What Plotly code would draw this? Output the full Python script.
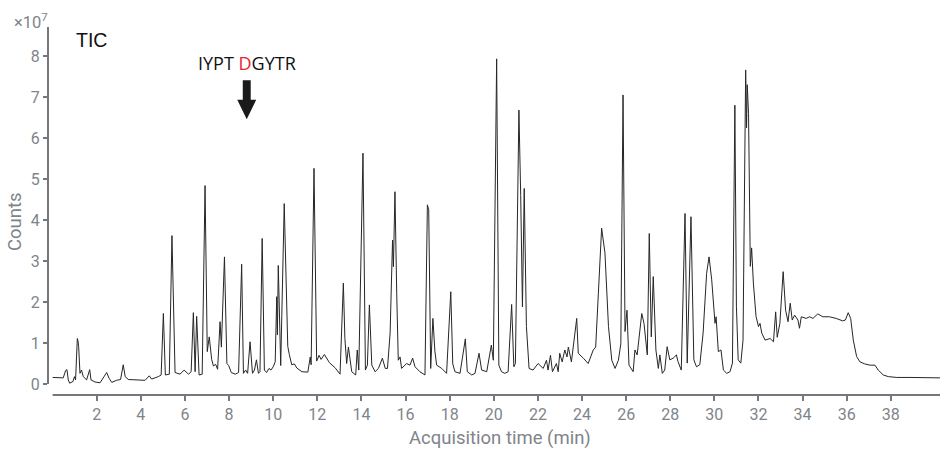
import plotly.graph_objects as go

# Total ion chromatogram (TIC): acquisition time (min) vs. counts (x10^7)
TIME_MIN = [
    0.00, 0.20, 0.48, 0.59, 0.65, 0.71, 0.77, 0.92, 0.99, 1.04,
    1.12, 1.15, 1.18, 1.24, 1.31, 1.39, 1.54, 1.68, 1.74, 1.92,
    2.15, 2.33, 2.45, 2.56, 2.68, 2.90, 3.08, 3.20, 3.29, 3.43,
    3.81, 4.19, 4.38, 4.49, 4.79, 4.92,
    5.02, 5.11, 5.29, 5.41, 5.55, 5.78, 5.96, 6.16, 6.28, 6.38,
    6.46, 6.53, 6.64, 6.78, 6.91, 7.01, 7.10, 7.21, 7.29, 7.39,
    7.48, 7.59, 7.65, 7.79, 7.90, 7.98, 8.10, 8.28, 8.43, 8.57,
    8.65, 8.75, 8.84, 8.95, 9.06, 9.15, 9.24, 9.33, 9.40, 9.50,
    9.60, 9.70, 9.81, 9.90, 10.00, 10.09, 10.16, 10.19, 10.23, 10.34,
    10.50, 10.66, 10.73, 10.84, 10.96, 11.07, 11.30, 11.57, 11.68, 11.72,
    11.85, 11.97, 12.08, 12.17, 12.32, 12.42, 12.55, 12.80, 13.03,
    13.18, 13.25, 13.33, 13.41, 13.56, 13.74, 13.81, 13.88, 14.07, 14.18,
    14.27, 14.36, 14.47, 14.62, 14.77, 14.95, 15.08, 15.18, 15.30, 15.41,
    15.45, 15.52, 15.60, 15.67, 15.75, 15.82, 16.05, 16.20, 16.32, 16.43,
    16.65, 16.88, 16.99, 17.05, 17.14, 17.24, 17.33, 17.41, 17.64, 17.86,
    18.05, 18.14, 18.24, 18.47, 18.71, 18.80, 19.00, 19.15, 19.33, 19.45,
    19.68, 19.89, 19.98, 20.13, 20.23, 20.35, 20.50, 20.65, 20.81, 20.91,
    20.98, 21.14, 21.22, 21.30, 21.38, 21.48, 21.60, 21.78, 22.01, 22.24,
    22.39, 22.46, 22.57, 22.66, 22.84, 22.92, 22.99, 23.10, 23.22, 23.32,
    23.38, 23.52, 23.76, 23.83, 24.06, 24.28, 24.51, 24.62, 24.74, 24.89,
    25.04, 25.20, 25.35, 25.50, 25.65, 25.76, 25.86, 25.95, 26.04, 26.13,
    26.32, 26.40, 26.50, 26.71, 26.81, 26.96, 27.05, 27.14, 27.23, 27.35,
    27.46, 27.53, 27.64, 27.75, 27.86, 27.98, 28.13, 28.28, 28.35, 28.50,
    28.67, 28.77, 28.94, 29.07, 29.19, 29.34, 29.49, 29.65, 29.76, 29.88,
    30.03, 30.08, 30.18, 30.30, 30.41, 30.56, 30.71, 30.82, 30.93, 31.00,
    31.08, 31.20, 31.30, 31.42, 31.46, 31.49, 31.55, 31.63, 31.69, 31.77,
    31.89, 32.00, 32.07, 32.15, 32.30, 32.53, 32.68, 32.78, 32.85, 32.97,
    33.12, 33.23, 33.34, 33.44, 33.53, 33.64, 33.79, 33.86, 33.94, 34.16,
    34.32, 34.47, 34.69, 34.92, 35.22, 35.52, 35.82, 35.94, 36.07, 36.18,
    36.30, 36.45, 36.60, 36.82, 37.05, 37.28, 37.43, 37.66, 37.89, 38.27,
    38.87, 39.47, 40.23,
]

COUNTS_E7 = [
    0.16, 0.15, 0.15, 0.33, 0.35, 0.10, 0.02, 0.06, 0.18, 0.10,
    1.11, 1.05, 0.91, 0.26, 0.34, 0.18, 0.10, 0.35, 0.10, 0.05,
    0.03, 0.18, 0.28, 0.14, 0.04, 0.09, 0.11, 0.47, 0.18, 0.11,
    0.10, 0.09, 0.20, 0.12, 0.18, 0.22,
    1.72, 0.22, 0.24, 3.62, 0.28, 0.24, 0.34, 0.24, 0.30, 1.74,
    0.30, 1.65, 0.22, 0.24, 4.84, 0.79, 1.15, 0.60, 0.44, 0.48,
    0.36, 1.52, 0.90, 3.10, 0.50, 0.45, 0.28, 0.24, 0.28, 2.92,
    0.26, 0.34, 0.26, 1.03, 0.26, 0.34, 0.59, 0.26, 0.30, 3.55,
    0.34, 0.28, 0.38, 0.34, 0.42, 0.54, 2.13, 1.20, 2.89, 0.45,
    4.40, 0.92, 0.72, 0.47, 0.49, 0.39, 0.30, 0.29, 0.66, 0.47,
    5.26, 0.56, 0.70, 0.60, 0.72, 0.64, 0.52, 0.40, 0.24,
    2.46, 1.11, 0.50, 0.90, 0.30, 0.22, 0.83, 0.34, 5.63, 0.34,
    0.46, 1.93, 0.46, 0.30, 0.38, 0.63, 0.38, 0.38, 1.24, 3.51,
    2.86, 4.69, 2.20, 0.58, 0.66, 0.38, 0.50, 0.46, 0.63, 0.42,
    0.30, 0.22, 4.37, 4.25, 0.38, 1.60, 0.80, 0.46, 0.38, 0.26,
    2.25, 0.49, 0.30, 0.26, 1.10, 0.30, 0.22, 0.26, 0.75, 0.34,
    0.30, 0.95, 0.58, 7.93, 0.46, 0.30, 0.26, 0.30, 1.94, 0.42,
    0.50, 6.68, 4.60, 1.88, 4.77, 1.40, 0.38, 0.34, 0.50, 0.38,
    0.58, 0.34, 0.70, 0.30, 0.50, 0.30, 0.75, 0.54, 0.83, 0.66,
    0.90, 0.54, 1.60, 0.75, 0.63, 0.50, 0.83, 0.90, 2.20, 3.80,
    3.20, 1.40, 0.58, 0.38, 0.58, 0.98, 7.05, 1.28, 1.80, 0.46,
    0.30, 0.83, 0.71, 1.72, 1.48, 0.71, 3.67, 1.15, 2.62, 0.83,
    0.38, 0.71, 0.26, 0.34, 0.91, 0.59, 0.63, 0.71, 0.55, 0.34,
    4.16, 0.51, 4.08, 0.59, 0.42, 0.47, 1.24, 2.70, 3.10, 2.54,
    1.48, 1.64, 0.79, 0.83, 0.34, 0.26, 0.30, 0.51, 6.80, 1.90,
    0.59, 0.51, 1.07, 7.66, 6.25, 7.30, 6.60, 2.87, 3.32, 2.46,
    1.65, 1.40, 1.48, 1.24, 1.07, 1.11, 1.03, 1.76, 1.14, 1.48,
    2.74, 1.80, 1.52, 1.97, 1.56, 1.68, 1.56, 1.36, 1.64, 1.60,
    1.64, 1.60, 1.71, 1.64, 1.64, 1.60, 1.54, 1.56, 1.74, 1.60,
    1.07, 0.67, 0.54, 0.49, 0.46, 0.46, 0.34, 0.22, 0.18, 0.16,
    0.16, 0.16, 0.15,
]

X_TICKS = list(range(2, 40, 2))
Y_TICKS = list(range(0, 9))

TRACE_LABEL = "TIC"
PEPTIDE_PREFIX = "IYPT "
PEPTIDE_SITE = "D"
PEPTIDE_SUFFIX = "GYTR"
PEPTIDE_TIME = 8.80  # elution time marked by the arrow

X_RANGE = [-0.21, 40.23]
Y_RANGE = [-0.268, 8.707]

AXIS_GREY = "#74787d"
LABEL_GREY = "#80848a"

W, H = 940, 454
M_L, M_R, M_T, M_B = 48, 0, 27, 59
PLOT_W = W - M_L - M_R
PLOT_H = H - M_T - M_B


def px_x(px):
    return (px - M_L) / PLOT_W


def px_y(py):
    return (H - M_B - py) / PLOT_H


fig = go.Figure()
fig.add_trace(go.Scatter(
    x=TIME_MIN, y=COUNTS_E7, mode="lines",
    line=dict(color="#262626", width=1),
    hoverinfo="skip", showlegend=False,
))

# axis lines: y axis stops at zero, x axis sits just below the plot
shapes = [
    dict(type="line", xref="paper", yref="y", x0=0, x1=0, y0=0, y1=Y_RANGE[1],
         line=dict(color=AXIS_GREY, width=2)),
    dict(type="line", xref="x", yref="paper", x0=0, x1=X_RANGE[1], y0=0, y1=0,
         line=dict(color=AXIS_GREY, width=2)),
]

# block arrow pointing at the labelled peptide
shaft, head = 0.18, 0.43
y_top, y_neck, y_tip = 7.41, 6.93, 6.46
t = PEPTIDE_TIME
arrow_path = (
    f"M {t - shaft} {y_top} L {t + shaft} {y_top} L {t + shaft} {y_neck} "
    f"L {t + head} {y_neck} L {t} {y_tip} L {t - head} {y_neck} "
    f"L {t - shaft} {y_neck} Z"
)
shapes.append(dict(type="path", xref="x", yref="y", path=arrow_path,
                   fillcolor="#1a1a1a", line=dict(width=0)))

annotations = [
    dict(text="×10<sup>7</sup>", xref="paper", yref="paper",
         x=px_x(50), y=px_y(21), xanchor="right", yanchor="middle",
         showarrow=False, font=dict(family="Roboto", size=16.5, color=LABEL_GREY)),
    dict(text=TRACE_LABEL, xref="paper", yref="paper",
         x=px_x(74), y=px_y(40), xanchor="left", yanchor="middle",
         showarrow=False, font=dict(family="Liberation Sans", size=19.5, color="#111111")),
    dict(text=(f"{PEPTIDE_PREFIX}<span style='color:#e5262d'>{PEPTIDE_SITE}</span>"
               f"{PEPTIDE_SUFFIX}"),
         xref="x", yref="paper", x=PEPTIDE_TIME, y=px_y(63),
         xanchor="center", yanchor="middle", showarrow=False,
         font=dict(family="Open Sans", size=18, color="#111111")),
    dict(text="Counts", xref="paper", yref="paper",
         x=px_x(15), y=px_y(222), xanchor="center", yanchor="middle",
         textangle=-90, showarrow=False,
         font=dict(family="Roboto", size=18.5, color=LABEL_GREY)),
    dict(text="Acquisition time (min)", xref="paper", yref="paper",
         x=px_x(500), y=px_y(438), xanchor="center", yanchor="middle",
         showarrow=False, font=dict(family="Roboto", size=18.5, color=LABEL_GREY)),
]

fig.update_layout(
    width=W, height=H,
    margin=dict(l=M_L, r=M_R, t=M_T, b=M_B, pad=0),
    paper_bgcolor="white", plot_bgcolor="white",
    shapes=shapes, annotations=annotations,
    xaxis=dict(
        range=X_RANGE, tickvals=X_TICKS, ticks="outside", ticklen=5,
        tickwidth=2, tickcolor=AXIS_GREY, showgrid=False, zeroline=False,
        showline=False, tickfont=dict(family="Roboto", size=16, color=LABEL_GREY),
    ),
    yaxis=dict(
        range=Y_RANGE, tickvals=Y_TICKS, ticks="outside", ticklen=4,
        tickwidth=2, tickcolor=AXIS_GREY, showgrid=False, zeroline=False,
        showline=False, tickfont=dict(family="Roboto", size=16, color=LABEL_GREY),
    ),
)

fig.write_html("out.html")
